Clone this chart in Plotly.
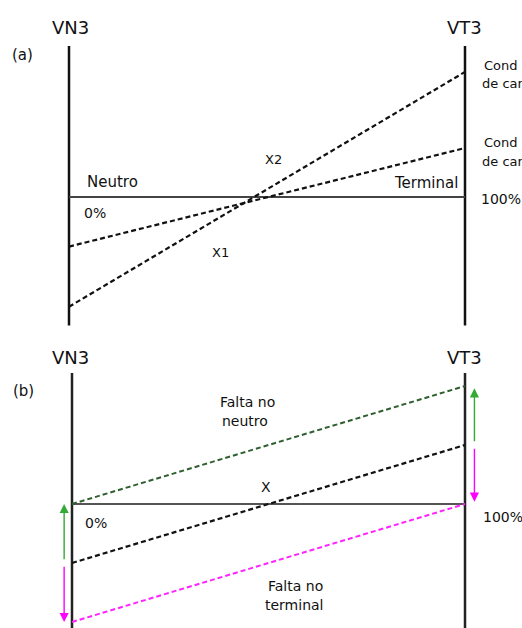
import plotly.graph_objects as go

# ---- data ----
pos = [0, 100]                      # position along the winding (%): neutral -> terminal
pos_labels = ["0%", "100%"]

# panel (a): voltage profiles for two load conditions (normalised units)
a_x1 = [-0.93, 1.06]                # steep profile (X1)
a_x2 = [-0.42, 0.415]               # shallow profile (X2)
a_axis = [-1.09, 1.28]              # extent of the VN3 / VT3 axes

# panel (b): normal profile and shifted profiles for faults
b_normal = [-0.5, 0.5]
b_fault_neutral = [0.0, 1.0]
b_fault_terminal = [-1.0, 0.0]
b_axis = [-1.06, 1.11]

FONT = "DejaVu Sans"
DASH = "5px,3px"

# the page margin is removed with a small post script, so figure pixels = window pixels
OFF = 0
W, H = 522 - OFF, 628 - OFF
SPLIT = 330                          # window pixel row between the two panels

fig = go.Figure()

def line(xs, ys, color, width, dash=None, panel=1):
    fig.add_trace(go.Scatter(
        x=xs, y=ys, mode="lines",
        line=dict(color=color, width=width, dash=dash),
        xaxis="x" if panel == 1 else "x2",
        yaxis="y" if panel == 1 else "y2",
        hoverinfo="skip", showlegend=False))

# panel (a)
line([pos[0], pos[0]], a_axis, "#111", 2.5)
line([pos[1], pos[1]], a_axis, "#111", 2.5)
line(pos, [0, 0], "#444", 2)
line(pos, a_x1, "#111", 2.2, DASH)
line(pos, a_x2, "#111", 2.2, DASH)

# panel (b)
line([pos[0], pos[0]], b_axis, "#222", 2.5, panel=2)
line([pos[1], pos[1]], b_axis, "#222", 2.5, panel=2)
line(pos, [0, 0], "#555", 2, panel=2)
line(pos, b_fault_neutral, "#2f5f2f", 2, DASH, panel=2)
line(pos, b_normal, "#111", 2.2, DASH, panel=2)
line(pos, b_fault_terminal, "#ff22ff", 2, DASH, panel=2)

ann = []

def txt(s, px, py, size=15, xanchor="center"):
    ann.append(dict(text=s, x=(px - OFF) / W, y=1 - (py - OFF) / H,
                    xref="paper", yref="paper",
                    showarrow=False, xanchor=xanchor, yanchor="middle",
                    font=dict(family=FONT, size=size, color="#111")))

# panel (a) labels
txt("VN3", 70, 27, 18)
txt("VT3", 464, 27, 18)
txt("(a)", 22, 55, 15)
txt("Neutro", 85, 182, 15, "left")
txt(pos_labels[0], 82, 213, 14, "left")
txt("X1", 210, 252, 13, "left")
txt("X2", 263, 159, 13, "left")
txt("Terminal", 460, 183, 15, "right")
txt(pos_labels[1], 479, 199, 14, "left")
txt("Cond", 482, 65, 13, "left")
txt("de car", 480, 84, 13, "left")
txt("Cond", 482, 142, 13, "left")
txt("de car", 480, 161, 13, "left")

# panel (b) labels
txt("VN3", 70, 357, 18)
txt("VT3", 464, 357, 18)
txt("(b)", 23, 391, 15)
txt("Falta no", 247, 402, 14)
txt("neutro", 245, 421, 14)
txt("X", 266, 487, 14)
txt(pos_labels[0], 83, 523, 14, "left")
txt(pos_labels[1], 481, 517, 14, "left")
txt("Falta no", 295, 586, 14)
txt("terminal", 294, 605, 14)

# displacement arrows (from normal profile to fault profiles)
def arrow(xv, y_from, y_to, color):
    ann.append(dict(x=xv, y=y_to, ax=xv, ay=y_from, xref="x2", yref="y2",
                    axref="x2", ayref="y2", showarrow=True, text="",
                    arrowhead=2, arrowsize=1.3, arrowwidth=1.4, arrowcolor=color))

gap = 0.02
arrow(-2.0, b_normal[0] + gap, b_fault_neutral[0], "#33aa33")
arrow(-2.0, b_normal[0] - gap, b_fault_terminal[0], "#ff00ff")
arrow(102.4, b_normal[1] + gap, b_fault_neutral[1] - 0.02, "#33aa33")
arrow(102.4, b_normal[1] - gap, b_fault_terminal[1] + 0.02, "#ff00ff")

split_frac = 1 - (SPLIT - OFF) / H

fig.update_layout(
    width=W, height=H,
    margin=dict(l=0, r=0, t=0, b=0),
    paper_bgcolor="white", plot_bgcolor="white",
    showlegend=False,
    annotations=ann,
    xaxis=dict(domain=[0, 1], range=[-(69 - OFF) / 3.96, (OFF + W - 69) / 3.96],
               visible=False, anchor="y"),
    yaxis=dict(domain=[split_frac, 1], range=[-(SPLIT - 197) / 118, (197 - OFF) / 118],
               visible=False, anchor="x"),
    xaxis2=dict(domain=[0, 1], range=[-(72 - OFF) / 3.93, (OFF + W - 72) / 3.93],
                visible=False, anchor="y2"),
    yaxis2=dict(domain=[0, split_frac], range=[-(OFF + H - 504) / 118, (504 - SPLIT) / 118],
                visible=False, anchor="x2"),
)

fig.write_html(
    "out.html",
    config={"displayModeBar": False},
    post_script="document.body.style.margin='0';document.body.style.overflow='hidden';",
)
